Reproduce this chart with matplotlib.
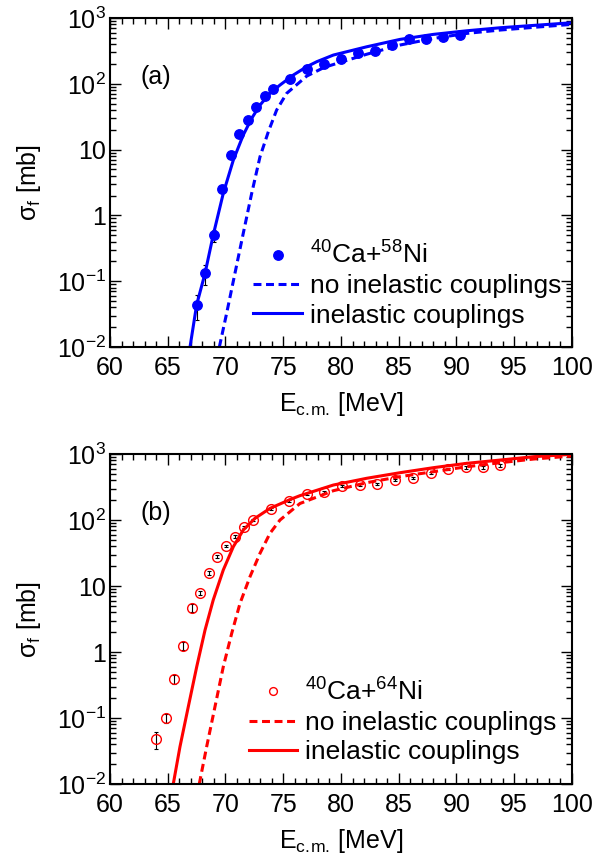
import numpy as np
import matplotlib
matplotlib.use('Agg')
import matplotlib.pyplot as plt
from matplotlib.ticker import MultipleLocator, LogLocator, FixedFormatter, FixedLocator, NullFormatter

plt.rcParams['font.family'] = ['Liberation Sans', 'DejaVu Sans']
plt.rcParams['mathtext.default'] = 'regular'

# ---- panel (a): 40Ca+58Ni ----
e_a = [67.51, 68.25, 68.98, 69.72, 70.48, 71.19, 71.92, 72.64, 73.39, 74.11,
       75.58, 77.06, 78.55, 80.03, 81.47, 82.97, 84.44, 85.91, 87.38, 88.86, 90.33]
sig_a = [0.0435, 0.132, 0.50, 2.55, 8.2, 17.5, 28.5, 44.9, 65.3, 82.5,
         118, 170, 200, 238, 291, 312, 389, 480, 484, 509, 557]
err_a = [0.018, 0.045, 0.10, 0.25, 0.6, 1.0, 1.5, 2.2, 3.0, 4.0,
         6, 8, 10, 12, 14, 15, 19, 24, 24, 25, 28]

e_a_nocpl = [69.47, 70.1, 70.82, 71.54, 72.27, 72.99, 73.71, 74.43, 75.3, 76.45,
             77.03, 78.55, 80.0, 82.23, 85.11, 88.0, 90.9, 93.8, 96.7, 100.0]
sig_a_nocpl = [0.01, 0.0325, 0.132, 0.535, 2.17, 7.8, 18.7, 40.0, 71.8, 107,
               131, 178, 214, 282, 389, 490, 585, 658, 723, 802]

e_a_cpl = [66.93, 67.5, 68.23, 68.94, 69.81, 70.68, 71.54, 72.27, 72.99, 73.85,
           74.72, 75.87, 77.03, 77.9, 79.34, 82.23, 85.11, 88.0, 90.9, 93.8, 96.7, 100.0]
sig_a_cpl = [0.01, 0.0435, 0.132, 0.504, 2.17, 6.95, 16.7, 29.9, 47.6, 71.8,
             95.9, 136, 182, 217, 274, 366, 474, 565, 641, 713, 774, 849]

# ---- panel (b): 40Ca+64Ni ----
e_b = [63.98, 64.82, 65.54, 66.35, 67.13, 67.82, 68.60, 69.29, 70.04, 70.82,
       71.60, 72.35, 73.91, 75.50, 77.06, 78.55, 80.09, 81.62, 83.12, 84.68,
       86.23, 87.79, 89.29, 90.80, 92.29, 93.79]
sig_b = [0.048, 0.099, 0.385, 1.25, 4.7, 7.9, 15.9, 27.8, 40.4, 55.8,
         77.5, 100, 145, 194, 248, 270, 328, 339, 347, 404,
         437, 521, 593, 629, 629, 675]
err_b = [0.0135, 0.016, 0.06, 0.18, 0.6, 0.55, 1.0, 1.5, 2.0, 2.5,
         3.0, 3.5, 5, 6, 8, 9, 10, 11, 12, 15,
         17, 22, 25, 30, 32, 35]

e_b_nocpl = [67.73, 68.37, 69.09, 69.81, 70.54, 71.26, 72.12, 72.99, 73.85, 74.72,
             76.45, 79.34, 82.23, 85.11, 88.0, 90.9, 93.8, 96.7, 100.0]
sig_b_nocpl = [0.01, 0.0367, 0.148, 0.598, 1.92, 5.47, 13.8, 31.3, 62.8, 100,
               178, 278, 368, 454, 540, 642, 739, 840, 933]

e_b_cpl = [65.48, 66.06, 66.78, 67.51, 68.23, 68.94, 69.81, 70.68, 71.54, 72.55,
           73.85, 75.58, 76.45, 79.34, 82.23, 85.11, 88.0, 90.9, 93.8, 96.7, 100.0]
sig_b_cpl = [0.01, 0.0367, 0.148, 0.598, 2.15, 6.14, 17.5, 39.4, 70.5, 106,
             150, 204, 234, 339, 429, 521, 621, 723, 811, 912, 990]

ytick_vals = [1e-2, 1e-1, 1, 10, 1e2, 1e3]
ytick_labels = ['$10^{-2}$', '$10^{-1}$', '1', '10', '$10^{2}$', '$10^{3}$']

FS = 18
LFS = 19

fig = plt.figure(figsize=(6.12, 8.56), dpi=100)
ax_a = fig.add_axes([0.1797, 0.5946, 0.7549, 0.3843])
ax_b = fig.add_axes([0.1797, 0.0841, 0.7549, 0.3855])


def style_axis(ax, tag):
    ax.set_xlim(60, 100)
    ax.set_yscale('log')
    ax.set_ylim(1e-2, 1e3)
    ax.xaxis.set_major_locator(MultipleLocator(5))
    ax.xaxis.set_minor_locator(MultipleLocator(1))
    ax.yaxis.set_major_locator(FixedLocator(ytick_vals))
    ax.yaxis.set_major_formatter(FixedFormatter(ytick_labels))
    ax.yaxis.set_minor_locator(LogLocator(base=10, subs=np.arange(2, 10)))
    ax.yaxis.set_minor_formatter(NullFormatter())
    ax.tick_params(which='both', direction='in', top=True, right=True, width=1.0,
                   labelsize=FS, colors='black')
    ax.tick_params(which='major', length=8)
    ax.tick_params(which='minor', length=4.5)
    ax.tick_params(axis='x', which='major', pad=6.5)
    ax.tick_params(axis='y', which='major', pad=3)
    for s in ax.spines.values():
        s.set_linewidth(1.5)
    # \! cancels most of the space mathtext puts after a period
    ax.set_xlabel('E$_{c.\\!m.\\!}$ [MeV]', fontsize=FS)
    ax.set_ylabel('$\\sigma_{f}$ [mb]', fontsize=FS)
    ax.xaxis.set_label_coords(0.5, -0.13)
    ax.yaxis.set_label_coords(-0.145, 0.5)
    ax.text(0.066, 0.82, tag, transform=ax.transAxes, fontsize=FS, va='center', ha='left')


# panel (a)
ax_a.errorbar(e_a, sig_a, yerr=err_a, fmt='none', ecolor='black', elinewidth=0.8,
              capsize=1.5, capthick=0.8, zorder=2)
ax_a.plot(e_a, sig_a, 'o', color='blue', markersize=6.8, zorder=3,
          label='$^{40}$Ca+$^{58}$Ni')
ax_a.plot(e_a_nocpl, sig_a_nocpl, color='blue', lw=2.2, dashes=(2.6, 1.5),
          label='no inelastic couplings')
ax_a.plot(e_a_cpl, sig_a_cpl, color='blue', lw=2.2, label='inelastic couplings')
style_axis(ax_a, '(a)')
ax_a.legend(loc='upper left', bbox_to_anchor=(0.31, 0.32), frameon=False,
            fontsize=LFS, handlelength=1.85, handletextpad=0.3, labelspacing=0.2,
            borderaxespad=0, borderpad=0)

# panel (b)
ax_b.errorbar(e_b, sig_b, yerr=err_b, fmt='none', ecolor='black', elinewidth=0.8,
              capsize=1.5, capthick=0.8, zorder=2)
ax_b.plot(e_b, sig_b, 'o', mfc='none', mec='red', mew=1.0, markersize=7,
          zorder=3, label='$^{40}$Ca+$^{64}$Ni')
ax_b.plot(e_b_nocpl, sig_b_nocpl, color='red', lw=2.2, dashes=(2.6, 1.5),
          label='no inelastic couplings')
ax_b.plot(e_b_cpl, sig_b_cpl, color='red', lw=2.2, label='inelastic couplings')
style_axis(ax_b, '(b)')
ax_b.legend(loc='upper left', bbox_to_anchor=(0.30, 0.32), frameon=False,
            fontsize=LFS, handlelength=1.85, handletextpad=0.3, labelspacing=0.2,
            borderaxespad=0, borderpad=0, markerscale=0.8)

fig.savefig('out.png', dpi=100)
